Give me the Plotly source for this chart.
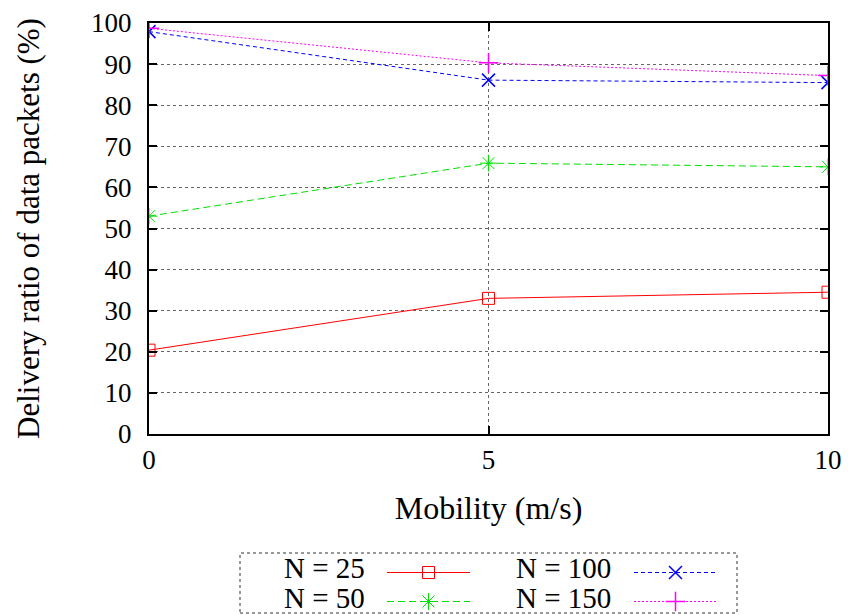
import plotly.graph_objects as go

mobility = [0, 5, 10]
n25 = [20.4, 33.0, 34.5]
n50 = [53.0, 65.9, 65.0]
n100 = [97.9, 86.1, 85.5]
n150 = [98.7, 90.3, 87.2]

series = [
    ("N = 25", n25, "#ff0000", "solid", "square-open", 12, 1, 1),
    ("N = 50", n50, "#00e000", "7px,4px", "asterisk-open", 14, 3, 1),
    ("N = 100", n100, "#0000ff", "4px,3px", "x-thin-open", 13, 2, 1.5),
    ("N = 150", n150, "#ff00ff", "2px,2px", "cross-thin-open", 14, 4, 1.5),
]

FONT = "Liberation Serif, Times New Roman, serif"
L, R, T, B = 149, 20, 23, 181
W, H = 848, 615
pw = W - L - R
ph = H - T - B


def px(x):
    return (x - L) / pw


def py(y):
    return (H - B - y) / ph


fig = go.Figure()
for name, vals, color, dash, sym, size, rank, mlw in series:
    fig.add_trace(go.Scatter(
        x=mobility, y=vals, mode="lines+markers", name="",
        legendrank=rank,
        line=dict(color=color, width=1, dash=dash),
        marker=dict(symbol=sym, size=size, color=color, line=dict(color=color, width=mlw)),
        hovertext=name,
    ))

axis_common = dict(
    showline=True, linecolor="black", linewidth=2, mirror="ticks",
    ticks="inside", ticklen=8, tickcolor="black", tickwidth=2,
    showgrid=True, gridcolor="#666", griddash="dot", gridwidth=1,
    zeroline=False, tickfont=dict(family=FONT, size=27, color="black"),
    automargin=False,
)

fig.update_xaxes(range=[0, 10], tickvals=[0, 5, 10], **axis_common,
                 title=dict(text="Mobility (m/s)", font=dict(family=FONT, size=32, color="black"), standoff=22),
                 ticklabelstandoff=1)
fig.update_yaxes(range=[0, 100], tickvals=list(range(0, 101, 10)), **axis_common,
                 title=dict(text="Delivery ratio of data packets (%)", font=dict(family=FONT, size=31, color="black"), standoff=42),
                 ticklabelstandoff=10)

annotations = []
for txt, xr, yc in [("N = 25", 367, 568), ("N = 50", 367, 598), ("N = 100", 613, 568), ("N = 150", 613, 598)]:
    annotations.append(dict(text=txt, x=px(xr), y=py(yc), xref="paper", yref="paper",
                            xanchor="right", yanchor="middle", showarrow=False,
                            font=dict(family=FONT, size=29, color="black")))

fig.update_layout(
    width=W, height=H,
    margin=dict(l=L, r=R, t=T, b=B, autoexpand=False),
    paper_bgcolor="white", plot_bgcolor="white",
    showlegend=True,
    legend=dict(orientation="h", x=px(382), y=py(553), xanchor="left", yanchor="top",
                entrywidth=149, entrywidthmode="pixels", itemwidth=83,
                bgcolor="rgba(0,0,0,0)", borderwidth=0,
                font=dict(family=FONT, size=20, color="black"), traceorder="normal"),
    annotations=annotations,
    shapes=[dict(type="rect", xref="paper", yref="paper",
                 x0=px(240), x1=px(737), y0=py(613), y1=py(553),
                 line=dict(color="#333", width=1, dash="3px,3px"))],
)

fig.write_html("out.html", config={"displayModeBar": False},
               post_script="document.body.style.margin='0';document.body.style.padding='0';")
